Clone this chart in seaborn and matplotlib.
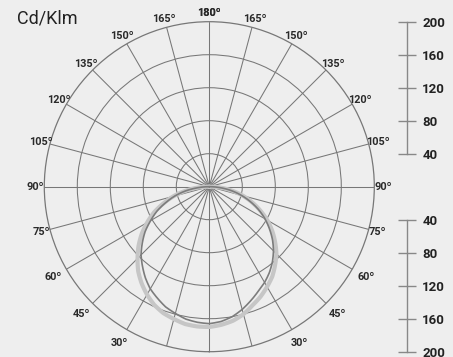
import numpy as np
import pandas as pd
import matplotlib
matplotlib.use("Agg")
import matplotlib.pyplot as plt
import seaborn as sns

# ---- data ----
gamma = [0, 5, 10, 15, 20, 25, 30, 35, 40, 45, 50, 55, 60, 65, 70, 75, 80, 85, 90]
light_left = [170, 170, 169, 166, 163, 158, 151, 143, 134, 123, 112, 100, 87, 74, 59, 45, 30, 15, 0]
light_right = [170, 168, 165, 160, 153, 147, 140, 133, 124, 115, 104, 93, 81, 68, 55, 42, 28, 14, 0]
dark_left = [166, 165, 163, 159, 155, 149, 143, 135, 126, 117, 106, 95, 82, 70, 56, 43, 29, 14, 0]
dark_right = [166, 164, 160, 154, 147, 140, 134, 127, 119, 110, 100, 89, 78, 66, 53, 40, 27, 13, 0]
ring_values = [40, 80, 120, 160]
scale_ticks = [40, 80, 120, 160, 200]
angle_labels = [30, 45, 60, 75, 90, 105, 120, 135, 150, 165, 180]
unit_label = "Cd/Klm"

sns.set_theme(style="white")
plt.rcParams["font.family"] = ["Roboto", "DejaVu Sans"]

BG = "#eeeeee"
W, H = 453, 357
fig = plt.figure(figsize=(W / 100, H / 100), dpi=100, facecolor=BG)

cx, cy, R = 209.3, 186.7, 165.0
ax = fig.add_axes([(cx - R) / W, (H - cy - R) / H, 2 * R / W, 2 * R / H],
                  projection="polar", facecolor=BG)
ax.set_theta_zero_location("S")
ax.set_theta_direction(1)
ax.set_ylim(0, 200)
ax.set_rgrids(ring_values, labels=[])
ax.set_thetagrids(np.arange(0, 360, 15), labels=[])
ax.grid(True, color="#777777", linewidth=0.75)
ax.spines["polar"].set_color("#777777")
ax.spines["polar"].set_linewidth(0.9)
ax.tick_params(axis="both", length=0, pad=0)

# build curve table
rows = []
for name, left, right in [("light", light_left, light_right),
                          ("dark", dark_left, dark_right)]:
    th = [-g for g in gamma[::-1]] + gamma[1:]
    rr = left[::-1] + right[1:]
    for i, (t, r) in enumerate(zip(th, rr)):
        rows.append({"series": name, "order": i, "theta": np.deg2rad(t), "r": r})
df = pd.DataFrame(rows)

sns.lineplot(data=df[df.series == "light"], x="theta", y="r", sort=False,
             estimator=None, color="#c6c6c6", linewidth=3.0, ax=ax, legend=False)
sns.lineplot(data=df[df.series == "dark"], x="theta", y="r", sort=False,
             estimator=None, color="#7c7c7c", linewidth=1.2, ax=ax, legend=False)
for ln in ax.get_lines():
    ln.set_solid_joinstyle("round")
    ln.get_path()._interpolation_steps = 12
ax.set_xlabel("")
ax.set_ylabel("")
ax.set_ylim(0, 200)

for a in angle_labels:
    rl = 211 if a >= 75 else 219
    for s in (1, -1):
        ax.text(np.deg2rad(s * a), rl, f"{a}º", ha="center", va="center",
                fontsize=7.8, fontweight="bold", color="#2a2a2a", clip_on=False)

fig.text(17 / W, 1 - 18.5 / H, unit_label, ha="left", va="center",
         fontsize=13, color="#222222")

# right-side scales
sx = 406.7
unit_px = R / 200.0
for top in (True, False):
    if top:
        y_top = cy - 200 * unit_px
        y_bot = cy - 40 * unit_px
    else:
        y_top = cy + 40 * unit_px
        y_bot = cy + 200 * unit_px
    sax = fig.add_axes([sx / W - 0.0005, (H - y_bot) / H, 0.0005, (y_bot - y_top) / H])
    sax.set_facecolor("none")
    for sp in ["left", "top", "bottom"]:
        sax.spines[sp].set_visible(False)
    sax.spines["right"].set_visible(True)
    sax.spines["right"].set_color("#888888")
    sax.spines["right"].set_linewidth(1.0)
    sax.set_xticks([])
    sax.yaxis.tick_right()
    sax.set_yticks(scale_ticks)
    sax.set_yticklabels([str(v) for v in scale_ticks])
    if top:
        sax.set_ylim(40, 200)
    else:
        sax.set_ylim(200, 40)
    sax.tick_params(axis="y", direction="inout", length=13.5, width=1.0,
                    color="#888888", pad=4.5, labelsize=9.5, labelcolor="#222222")
    for lab in sax.get_yticklabels():
        lab.set_fontweight("bold")

fig.savefig("out.png", dpi=100, facecolor=BG)
